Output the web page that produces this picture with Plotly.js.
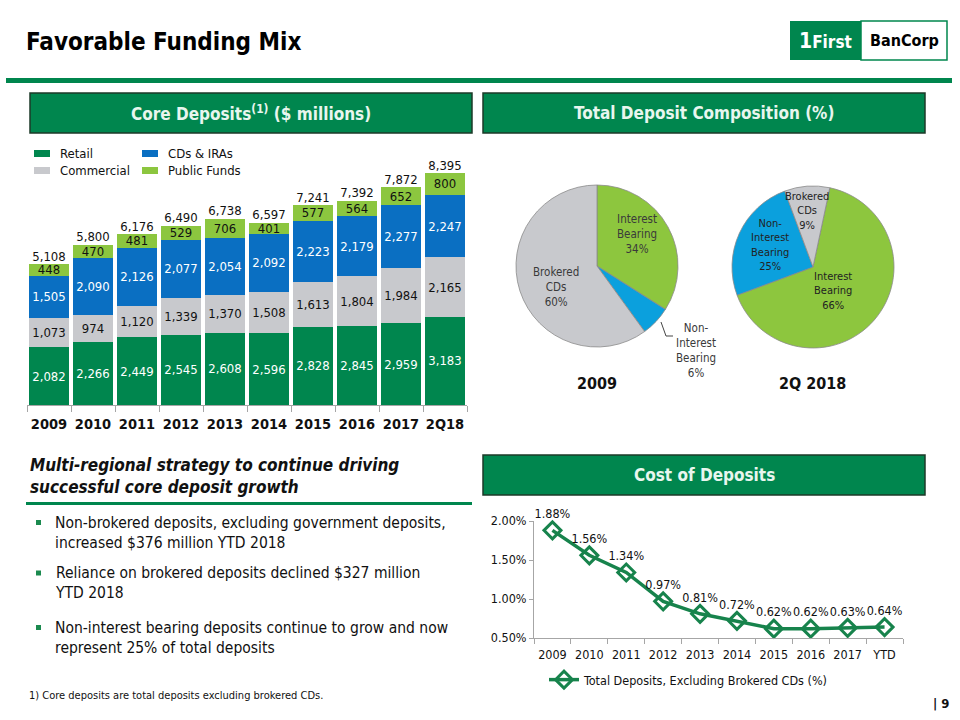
<!DOCTYPE html>
<html><head><meta charset="utf-8">
<script src="https://cdn.plot.ly/plotly-3.0.1.min.js"></script>
<style>html,body{margin:0;padding:0;background:#fff}#chart{width:960px;height:720px}</style>
</head><body><div id="chart"></div>
<script>
// ---------- data ----------
const years = ['2009','2010','2011','2012','2013','2014','2015','2016','2017','2Q18'];
const retail = [2082,2266,2449,2545,2608,2596,2828,2845,2959,3183];
const commercial = [1073,974,1120,1339,1370,1508,1613,1804,1984,2165];
const cdsIras = [1505,2090,2126,2077,2054,2092,2223,2179,2277,2247];
const publicFunds = [448,470,481,529,706,401,577,564,652,800];
const totals = [5108,5800,6176,6490,6738,6597,7241,7392,7872,8395];

const pieLabels = ['Interest Bearing','Non-Interest Bearing','Brokered CDs'];
const pieLabelLines = ['Interest<br>Bearing','Non-<br>Interest<br>Bearing','Brokered<br>CDs'];
const pie2009 = [34,6,60];
const pie2Q18 = [66,25,9];

const costYears = ['2009','2010','2011','2012','2013','2014','2015','2016','2017','YTD'];
const costOfDeposits = [1.88,1.56,1.34,0.97,0.81,0.72,0.62,0.62,0.63,0.64];
const costTicks = [0.5,1.0,1.5,2.0];

// ---------- style ----------
const F = "'DejaVu Sans Condensed', 'DejaVu Sans', sans-serif";
const GREEN = '#00864e', GRAY = '#c8c9cd', BLUE = '#0a6fc2', LIME = '#8cc63f';
const PIE_COLORS = ['#8dc63e','#0ba0dd','#c8c9cd'];
const LINE_GREEN = '#17834c';
const W = 960, H = 720;
const px = x => x / W, py = y => 1 - y / H;

function barTrace(name, vals, color, txtColor) {
  return {type:'bar', name, x: years, y: vals, marker:{color}, xaxis:'x', yaxis:'y',
    texttemplate:'%{y:,}', textposition:'inside', insidetextanchor:'middle', textangle:0,
    constraintext:'none', textfont:{family:F, size:13, color:txtColor},
    showlegend:false, hoverinfo:'skip'};
}

const traces = [
  barTrace('Retail', retail, GREEN, '#ffffff'),
  barTrace('Commercial', commercial, GRAY, '#111111'),
  barTrace('CDs & IRAs', cdsIras, BLUE, '#ffffff'),
  barTrace('Public Funds', publicFunds, LIME, '#111111'),
  {type:'scatter', mode:'text', x: years, y: totals, text: totals.map(v => v.toLocaleString('en-US')),
   textposition:'top center', textfont:{family:F, size:13, color:'#111'}, cliponaxis:false,
   xaxis:'x', yaxis:'y', showlegend:false, hoverinfo:'skip'},
  {type:'pie', labels: pieLabels, values: pie2009, sort:false, direction:'clockwise', rotation:0,
   marker:{colors:PIE_COLORS, line:{color:'#8a8a8a', width:0.8}}, textinfo:'none', hoverinfo:'skip',
   domain:{x:[px(516), px(678)], y:[py(347), py(185)]}, showlegend:false},
  {type:'pie', labels: pieLabels, values: pie2Q18, sort:false, direction:'clockwise', rotation:12,
   marker:{colors:PIE_COLORS, line:{color:'#8a8a8a', width:0.8}}, textinfo:'none', hoverinfo:'skip',
   domain:{x:[px(732), px(894)], y:[py(348), py(186)]}, showlegend:false},
  {type:'scatter', mode:'lines+markers+text', name:'Total Deposits, Excluding Brokered CDs (%)',
   x: costYears, y: costOfDeposits, xaxis:'x2', yaxis:'y2',
   line:{color:LINE_GREEN, width:3.5},
   marker:{symbol:'diamond-open', size:13, color:LINE_GREEN, line:{color:LINE_GREEN, width:3}},
   texttemplate:'%{y:.2f}%', textposition:'top center', textfont:{family:F, size:12.5, color:'#111'},
   cliponaxis:false, hoverinfo:'skip'}
];

const annotations = [];
function ann(x, y, text, o) {
  o = o || {};
  annotations.push(Object.assign({xref:'paper', yref:'paper', x:px(x), y:py(y), text, showarrow:false,
    xanchor:'center', yanchor:'middle', font:{family:F, size:13, color:'#111'}}, o));
}
const shapes = [];
function rect(x0, y0, x1, y1, fill, line) {
  shapes.push({type:'rect', xref:'paper', yref:'paper', x0:px(x0), x1:px(x1), y0:py(y1), y1:py(y0),
    fillcolor:fill, line: line || {width:0}, layer:'above'});
}

// title & top rule
ann(24, 42, '<b>Favorable Funding Mix</b>', {xanchor:'left', font:{family:F, size:24, color:'#000'}});
rect(6, 78, 952, 83, GREEN);
// logo
rect(790, 21, 861, 60, GREEN);
rect(861, 21, 947, 60, '#ffffff', {color:GREEN, width:1.5});
ann(825, 40.5, '<b><span style="font-size:21px">1</span>First</b>', {font:{family:F, size:17, color:'#fff'}});
ann(904, 40.5, '<b>BanCorp</b>', {font:{family:F, size:16, color:'#000'}});

// header boxes
const hdrLine = {color:'#1c3a28', width:1.5};
rect(30, 93, 472, 133, GREEN, hdrLine);
ann(251, 113, '<b>Core Deposits<sup>(1)</sup> ($ millions)</b>', {font:{family:F, size:17, color:'#e8f6ee'}});
rect(483, 93, 925, 133, GREEN, hdrLine);
ann(704, 113, '<b>Total Deposit Composition (%)</b>', {font:{family:F, size:17, color:'#e8f6ee'}});
rect(483, 455, 925, 495, GREEN, hdrLine);
ann(704, 475, '<b>Cost of Deposits</b>', {font:{family:F, size:17, color:'#e8f6ee'}});

// bar legend
const legItems = [[34,150,'Retail',GREEN],[34,167,'Commercial',GRAY],[142,150,'CDs & IRAs',BLUE],[142,167,'Public Funds',LIME]];
legItems.forEach(([x,y,t,c]) => { rect(x, y, x+16, y+7, c); ann(x+24, y+3.5, t, {xanchor:'left', font:{family:F, size:13, color:'#111'}}); });

// pie labels
const pieTxt2009 = {family:F, size:11.5, color:'#3a3a3a'};
const pieTxt2018 = {family:F, size:11, color:'#222'};
ann(637, 234, pieLabelLines[0] + '<br>' + pie2009[0] + '%', {font:pieTxt2009});
ann(556, 287, pieLabelLines[2] + '<br>' + pie2009[2] + '%', {font:pieTxt2009});
ann(696, 350, pieLabelLines[1] + '<br>' + pie2009[1] + '%', {font:pieTxt2009});
ann(807, 211, pieLabelLines[2] + '<br>' + pie2Q18[2] + '%', {font:pieTxt2018});
ann(770, 245, pieLabelLines[1] + '<br>' + pie2Q18[1] + '%', {font:pieTxt2018});
ann(833, 291, pieLabelLines[0] + '<br>' + pie2Q18[0] + '%', {font:pieTxt2018});
ann(597, 383, '<b>2009</b>', {font:{family:F, size:16, color:'#111'}});
ann(812, 383, '<b>2Q 2018</b>', {font:{family:F, size:16, color:'#111'}});

// left lower text
ann(28, 476, '<b><i>Multi-regional strategy to continue driving<br>successful core deposit growth</i></b>',
  {xanchor:'left', align:'left', font:{family:F, size:17, color:'#111'}});
rect(26, 502, 472, 505, GREEN);
const bullets = [[532.5,'Non-brokered deposits, excluding government deposits,<br>increased $376 million YTD 2018'],
                 [583,'Reliance on brokered deposits declined $327 million<br>YTD 2018'],
                 [637.5,'Non-interest bearing deposits continue to grow and now<br>represent 25% of total deposits']];
bullets.forEach(([y,t]) => {
  rect(36, y-12.5, 41, y-7.5, '#1b8a4f');
  ann(53, y, t, {xanchor:'left', align:'left', font:{family:F, size:15.5, color:'#111'}});
});
ann(27, 695, '1) Core deposits are total deposits excluding brokered CDs.', {xanchor:'left', font:{family:F, size:11, color:'#111'}});
ann(951, 703, '<b>| 9</b>', {xanchor:'right', font:{family:F, size:13, color:'#111'}});

// leader line for 2009 non-interest label
shapes.push({type:'path', xref:'paper', yref:'paper',
  path:`M ${px(661)} ${py(322)} L ${px(666)} ${py(336)} L ${px(673)} ${py(336)}`, line:{color:'#444', width:1}});

const layout = {
  width: W, height: H, margin:{l:0, r:0, t:0, b:0}, paper_bgcolor:'#fff', plot_bgcolor:'rgba(0,0,0,0)',
  barmode:'stack', bargap:0.11, font:{family:F},
  xaxis:{type:'category', domain:[px(27), px(467)], anchor:'y', range:[-0.5, 9.5], showgrid:false,
    showline:true, linecolor:'#a6a6a6', linewidth:1, tickangle:0, ticklabelstandoff:6,
    ticks:'outside', tickson:'boundaries', ticklen:6, tickcolor:'#a6a6a6',
    tickfont:{family:F, size:14.5, color:'#111', weight:'bold'}, fixedrange:true},
  yaxis:{domain:[py(405), py(140)], range:[0, 9584], visible:false, fixedrange:true},
  xaxis2:{type:'category', domain:[px(534), px(903)], anchor:'y2', range:[-0.5, 9.5], showgrid:false,
    showline:true, linecolor:'#a6a6a6', linewidth:1, tickangle:0, ticklabelstandoff:5,
    ticks:'outside', tickson:'boundaries', ticklen:5, tickcolor:'#a6a6a6',
    tickfont:{family:F, size:12.5, color:'#111'}},
  yaxis2:{domain:[py(638), py(521)], anchor:'x2', range:[0.5, 2.0], tickmode:'array', tickvals:costTicks,
    ticktext:costTicks.map(v => v.toFixed(2) + '%'), showline:true, linecolor:'#a6a6a6', ticks:'outside', ticklen:4,
    tickcolor:'#a6a6a6', showgrid:false, zeroline:false, tickfont:{family:F, size:12.5, color:'#111'}},
  showlegend:true,
  legend:{x:px(544), y:py(680), xanchor:'left', yanchor:'middle', bgcolor:'rgba(0,0,0,0)',
    font:{family:F, size:12.5, color:'#111'}},
  annotations, shapes
};

Plotly.newPlot('chart', traces, layout, {staticPlot:true, displayModeBar:false});
</script></body></html>
